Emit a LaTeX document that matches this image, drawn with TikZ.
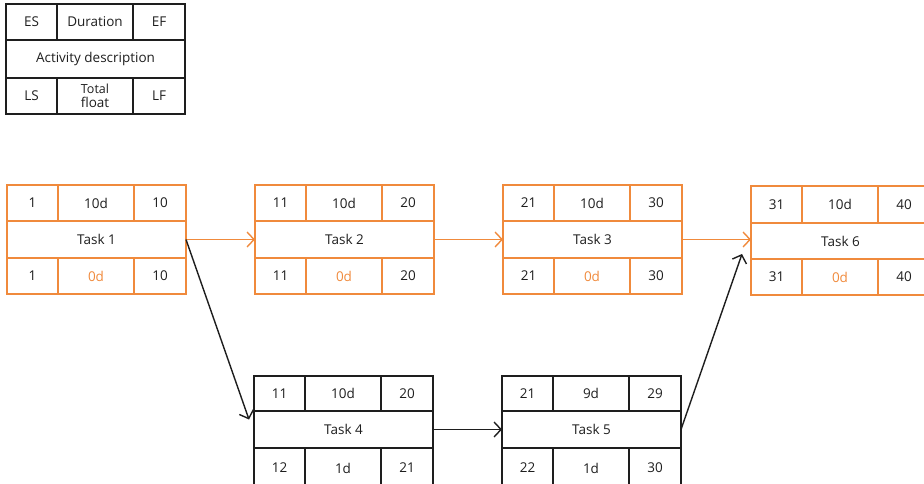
\documentclass[tikz,border=0pt]{standalone}
\usepackage{fontspec}
\setmainfont{Open Sans}
\usetikzlibrary{arrows.meta}
\definecolor{ink}{HTML}{1E1E1E}
\definecolor{crit}{HTML}{F08A3C}
\tikzset{
  cell/.style={draw=\bc, line width=1.4pt, inner sep=0pt, outer sep=0pt, anchor=north west, text=ink,
    font=\fontsize{13.5}{14}\selectfont, align=center},
  link/.style={line width=1.4pt, -{Straight Barb[length=7pt,width=15pt,line width=1.4pt]}},
}
\def\bc{ink}
\newcommand\tkrow[7]{%
  \node[cell,minimum width=51pt,minimum height=#4pt] (#1-1) at (#2,#3) {#5};
  \node[cell,minimum width=76pt,minimum height=#4pt] (#1-2) at (#1-1.north east) {#6};
  \node[cell,minimum width=52pt,minimum height=#4pt] (#1-3) at (#1-2.north east) {#7};}
\begin{document}
\begin{tikzpicture}[x=1pt,y=-1pt]
\useasboundingbox (0,0) rectangle (924,484);
\clip (0,0) rectangle (924,484);
% legend
\def\bc{ink}
\tkrow{lg-top}{6}{4}{36}{ES}{Duration}{EF}
\node[cell,minimum width=179pt,minimum height=38pt] (lg) at (6,40) {Activity description};
\tkrow{lg-bot}{6}{78}{36}{LS}{\fontsize{12.5}{13}\selectfont Total\\float}{LF}
% task 1
\def\bc{crit}
\tkrow{t1-top}{7}{185}{36}{1}{10d}{10}
\node[cell,minimum width=179pt,minimum height=37pt] (t1) at (7,221) {Task 1};
\tkrow{t1-bot}{7}{258}{36}{1}{\textcolor{crit}{0d}}{10}
% task 2
\tkrow{t2-top}{255}{185}{36}{11}{10d}{20}
\node[cell,minimum width=179pt,minimum height=37pt] (t2) at (255,221) {Task 2};
\tkrow{t2-bot}{255}{258}{36}{11}{\textcolor{crit}{0d}}{20}
% task 3
\tkrow{t3-top}{503}{185}{36}{21}{10d}{30}
\node[cell,minimum width=179pt,minimum height=37pt] (t3) at (503,221) {Task 3};
\tkrow{t3-bot}{503}{258}{36}{21}{\textcolor{crit}{0d}}{30}
% task 6
\tkrow{t6-top}{751}{186}{37}{31}{10d}{40}
\node[cell,minimum width=179pt,minimum height=36pt] (t6) at (751,223) {Task 6};
\tkrow{t6-bot}{751}{259}{36}{31}{\textcolor{crit}{0d}}{40}
% task 4
\def\bc{ink}
\tkrow{t4-top}{254}{376}{35}{11}{10d}{20}
\node[cell,minimum width=179pt,minimum height=37pt] (t4) at (254,411) {Task 4};
\tkrow{t4-bot}{254}{448}{40}{12}{1d}{21}
% task 5
\tkrow{t5-top}{502}{376}{35}{21}{9d}{29}
\node[cell,minimum width=179pt,minimum height=37pt] (t5) at (502,411) {Task 5};
\tkrow{t5-bot}{502}{448}{40}{22}{1d}{30}
% connectors
\draw[link,crit] (t1.east) -- (t2.west);
\draw[link,crit] (t2.east) -- (t3.west);
\draw[link,crit] (t3.east) -- (t3.east -| t6.west);
\draw[link,ink] (t1.east) -- ([shift={(-5,-10)}]t4.west);
\draw[link,ink] (t4.east) -- (t5.west);
\draw[link,ink] (t5.east) -- ([shift={(-9,13)}]t6.west);
\end{tikzpicture}
\end{document}
